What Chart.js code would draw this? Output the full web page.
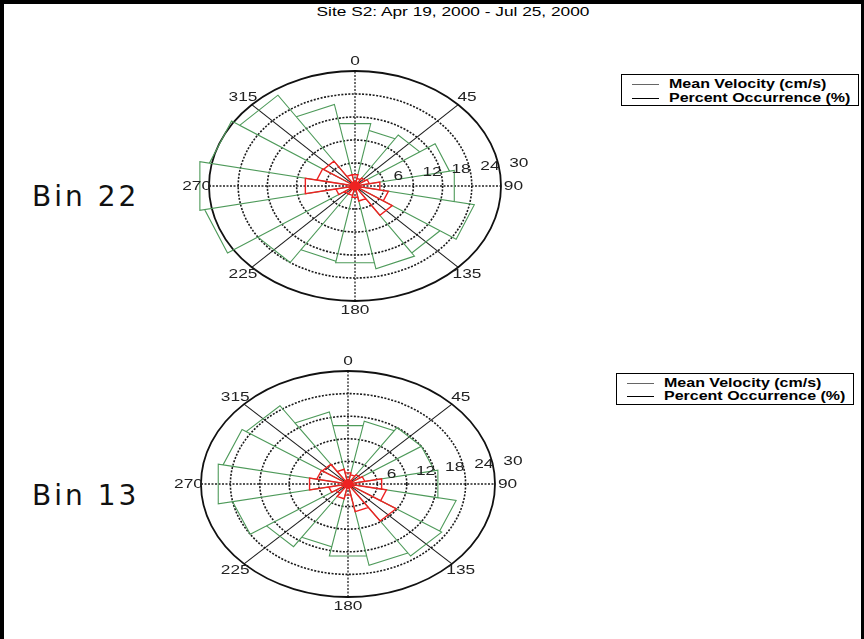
<!DOCTYPE html>
<html>
<head>
<meta charset="utf-8">
<script src="https://cdn.jsdelivr.net/npm/chart.js@4.4.0/dist/chart.umd.min.js"></script>
<style>
  body { margin: 0; background: #fff; }
  #frame { position: absolute; left: 0; top: 0; width: 864px; height: 639px; box-sizing: border-box;
           border-top: 4px solid #000; border-left: 4px solid #000; border-right: 3px solid #000; }
  canvas { position: absolute; }
  .wide { position: absolute; white-space: nowrap; font-family: "Liberation Sans", Arial, sans-serif;
          transform: scaleX(1.28); transform-origin: 0 0; color: #000; }
  #title { left: 253px; top: 4px; width: 400px; text-align: center; font-size: 13.5px; transform-origin: 50% 0; }
  .bin { position: absolute; left: 32px; font-family: "DejaVu Sans", sans-serif; font-size: 28px; letter-spacing: 3px; color: #111; }
  .legend { position: absolute; width: 238px; height: 32px; border: 1px solid #000; box-sizing: border-box; background: #fff; }
  .legend .ln { position: absolute; left: 10px; width: 27px; height: 0; }
  .legend .wide { left: 47px; font-weight: bold; font-size: 12.5px; line-height: 14px; }
</style>
</head>
<body>
<div id="frame"></div>
<div id="title" class="wide">Site S2: Apr 19, 2000 - Jul 25, 2000</div>

<div class="bin" style="top:180px">Bin 22</div>
<div class="bin" style="top:479px">Bin 13</div>

<div class="legend" style="left:621px; top:74px">
  <div class="ln" style="top:9px; border-top:1px solid #666"></div>
  <div class="ln" style="top:23px; border-top:1.5px solid #000"></div>
  <div class="wide" style="top:2px">Mean Velocity (cm/s)</div>
  <div class="wide" style="top:16px">Percent Occurrence (%)</div>
</div>
<div class="legend" style="left:616px; top:373px">
  <div class="ln" style="top:9px; border-top:1px solid #666"></div>
  <div class="ln" style="top:22px; border-top:1.5px solid #000"></div>
  <div class="wide" style="top:2px">Mean Velocity (cm/s)</div>
  <div class="wide" style="top:15px">Percent Occurrence (%)</div>
</div>

<canvas id="bin22" width="420" height="300" style="left:150px; top:40px"></canvas>
<canvas id="bin13" width="420" height="296" style="left:150px; top:340px"></canvas>

<script>
// direction bins (degrees, clockwise from north), 22.5 degrees wide
const binCenters = [0, 22.5, 45, 67.5, 90, 112.5, 135, 157.5, 180, 202.5, 225, 247.5, 270, 292.5, 315, 337.5];
const binWidth = 22.5;

// Bin 22
const bin22Velocity = [16.6, 14.8, 16, 19.8, 20.8, 25, 21, 22, 20.4, 20, 24, 31.5, 32.5, 30.5, 28.5, 21.7];
const bin22Percent  = [3, 2, 2.5, 3, 5.2, 7, 9.2, 4, 3, 2.5, 2.5, 4, 10.4, 8, 7.8, 3];

// Bin 13
const bin13Velocity = [15.8, 17, 18, 18, 18.7, 22.5, 23, 22, 19.5, 17, 20, 24, 27, 26, 25, 19.5];
const bin13Percent  = [3, 2.5, 3, 3.5, 7, 8, 11.8, 7.5, 3, 4, 3, 4, 8, 6.5, 6.3, 4];

// polar axes
const ringTicks = [6, 12, 18, 24, 30];
const angleTicks = [0, 45, 90, 135, 180, 225, 270, 315];

const STRETCH = 1.28;
const rad = d => d * Math.PI / 180;

// rose outline like matlab: centre -> edge -> edge -> centre for every bin
function rosePoints(values) {
  const pts = [];
  values.forEach((r, i) => {
    const a1 = rad(binCenters[i] - binWidth / 2), a2 = rad(binCenters[i] + binWidth / 2);
    pts.push({x: 0, y: 0});
    pts.push({x: r * Math.sin(a1), y: r * Math.cos(a1)});
    pts.push({x: r * Math.sin(a2), y: r * Math.cos(a2)});
    pts.push({x: 0, y: 0});
  });
  return pts;
}

function wideText(ctx, txt, x, y, align) {
  ctx.save();
  ctx.translate(x, y);
  ctx.scale(STRETCH, 1);
  ctx.textAlign = align;
  ctx.fillText(txt, 0, 0);
  ctx.restore();
}

const polarGrid = {
  id: 'polarGrid',
  beforeDatasetsDraw(chart) {
    const {ctx, scales: {x, y}} = chart;
    const cx = x.getPixelForValue(0), cy = y.getPixelForValue(0);
    const rmax = ringTicks[ringTicks.length - 1];
    ctx.save();
    angleTicks.filter(a => a < 180).forEach(a => {
      const t = rad(a);
      ctx.beginPath();
      if (a % 90 === 0) { ctx.lineWidth = 1.3; ctx.strokeStyle = '#222'; ctx.setLineDash([2, 1.5]); }
      else { ctx.lineWidth = 1.1; ctx.strokeStyle = '#1a1a1a'; ctx.setLineDash([]); }
      ctx.moveTo(x.getPixelForValue(-rmax * Math.sin(t)), y.getPixelForValue(-rmax * Math.cos(t)));
      ctx.lineTo(x.getPixelForValue(rmax * Math.sin(t)), y.getPixelForValue(rmax * Math.cos(t)));
      ctx.stroke();
    });
    ringTicks.forEach(r => {
      const rx = x.getPixelForValue(r) - cx, ry = cy - y.getPixelForValue(r);
      ctx.beginPath();
      ctx.ellipse(cx, cy, rx, ry, 0, 0, 2 * Math.PI);
      if (r === rmax) { ctx.setLineDash([]); ctx.lineWidth = 1.8; ctx.strokeStyle = '#111'; }
      else { ctx.setLineDash([2, 1.5]); ctx.lineWidth = 1.6; ctx.strokeStyle = '#1a1a1a'; }
      ctx.stroke();
    });
    ctx.restore();
  },
  afterDatasetsDraw(chart) {
    const {ctx, scales: {x, y}} = chart;
    const rmax = ringTicks[ringTicks.length - 1];
    ctx.save();
    ctx.fillStyle = '#222';
    ctx.font = '13.5px "Liberation Sans", Arial, sans-serif';
    ctx.textBaseline = 'middle';
    angleTicks.forEach(a => {
      const r = rmax * 1.085, t = rad(a);
      wideText(ctx, String(a), x.getPixelForValue(r * Math.sin(t)), y.getPixelForValue(r * Math.cos(t)), 'center');
    });
    ctx.textBaseline = 'bottom';
    const t = rad(82);
    ringTicks.forEach(v => {
      const r = v + 2;
      wideText(ctx, String(v), x.getPixelForValue(r * Math.sin(t)), y.getPixelForValue(r * Math.cos(t)) + 1, 'left');
    });
    ctx.restore();
  }
};

function makeRose(id, velocity, percent, padding) {
  new Chart(document.getElementById(id), {
    type: 'scatter',
    data: {
      // first dataset is painted last, so the red rose sits on top of the green one
      datasets: [{
        label: 'Percent Occurrence (%)',
        data: rosePoints(percent),
        showLine: true,
        borderColor: '#ee2222',
        borderWidth: 1.4,
        pointRadius: c => c.dataIndex === 0 ? 5 : 0,
        pointBackgroundColor: '#ee2222',
        pointBorderWidth: 0,
        clip: false
      }, {
        label: 'Mean Velocity (cm/s)',
        data: rosePoints(velocity),
        showLine: true,
        borderColor: '#4e9a5a',
        borderWidth: 1.1,
        pointRadius: 0,
        clip: false
      }]
    },
    options: {
      responsive: false,
      animation: false,
      layout: {padding: padding},
      plugins: {legend: {display: false}, tooltip: {enabled: false}},
      scales: {
        x: {type: 'linear', min: -30, max: 30, display: false},
        y: {type: 'linear', min: -30, max: 30, display: false}
      }
    },
    plugins: [polarGrid]
  });
}

makeRose('bin22', bin22Velocity, bin22Percent, {left: 59, right: 69, top: 31, bottom: 39});
makeRose('bin13', bin13Velocity, bin13Percent, {left: 51, right: 75, top: 31, bottom: 39});
</script>
</body>
</html>
